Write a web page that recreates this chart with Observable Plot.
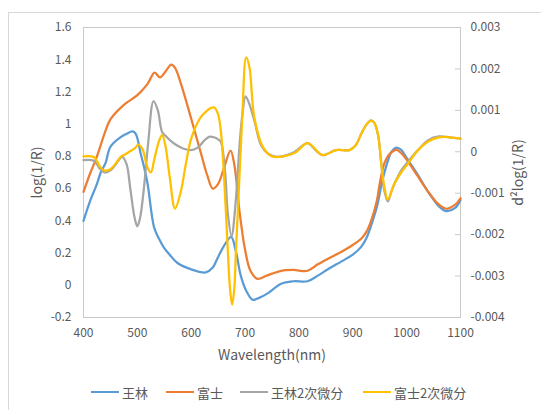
<!DOCTYPE html>
<html><head><meta charset="utf-8">
<script src="https://cdn.jsdelivr.net/npm/d3@7"></script>
<script src="https://cdn.jsdelivr.net/npm/@observablehq/plot@0.6"></script>
<style>
body{margin:0;background:#fff;}
#wrap{position:relative;width:541px;height:410px;overflow:hidden;font-family:"Noto Sans CJK SC","Noto Sans",sans-serif;background:#fff;}
#border{position:absolute;left:8px;top:12px;width:700px;height:600px;border:1px solid #d9d9d9;}
#chart{position:absolute;left:0;top:0;}
.leg{position:absolute;top:383px;height:18px;display:flex;align-items:center;font-size:13px;color:#595959;white-space:nowrap;}
.leg .sw{display:inline-block;width:28px;height:2.5px;margin-right:3px;}
</style></head>
<body><div id="wrap"><div id="border"></div><div id="chart"></div><div id="legend"></div></div>
<script>
// ---- data ----
const seriesNames = ["王林", "富士", "王林2次微分", "富士2次微分"];
const seriesColors = ["#5b9bd5", "#ed7d31", "#a5a5a5", "#ffc000"];

const wangWl = [400,413,425,432,441,450,469,480,491,497,506,512,519,531,540,550,560,574,599,627,640,649,660,674,683,692,703,714,725,742,767,790,816,835,854,880,900,916,925,934,945,955,965,972,981,990,1000,1020,1040,1060,1074,1090,1100];
const wangLin = [0.40,0.53,0.63,0.70,0.76,0.86,0.92,0.94,0.955,0.94,0.82,0.74,0.63,0.36,0.29,0.23,0.19,0.14,0.10,0.08,0.11,0.17,0.24,0.30,0.21,0.06,-0.04,-0.09,-0.08,-0.05,0.01,0.025,0.025,0.06,0.10,0.15,0.19,0.24,0.29,0.37,0.49,0.65,0.77,0.83,0.855,0.84,0.79,0.69,0.58,0.49,0.46,0.48,0.53];

const fujiWl = [400,413,425,440,450,475,500,519,532,542,553,563,570,581,599,618,630,640,650,660,673,680,690,700,710,723,740,767,790,816,835,854,880,900,916,925,934,945,950,959,970,981,990,1000,1020,1040,1060,1074,1090,1100];
const fuji = [0.58,0.70,0.80,0.95,1.03,1.12,1.18,1.25,1.32,1.29,1.33,1.37,1.35,1.25,1.045,0.82,0.68,0.60,0.63,0.72,0.836,0.75,0.45,0.22,0.09,0.04,0.06,0.09,0.095,0.09,0.13,0.165,0.21,0.25,0.29,0.33,0.40,0.53,0.63,0.76,0.82,0.84,0.82,0.78,0.68,0.58,0.50,0.475,0.50,0.54];

const wangD2Wl = [400,420,430,440,450,460,472,480,487,495,500,505,512,520,530,538,546,555,568,585,599,612,625,633,642,650,655,663,668,675,682,690,695,701,708,717,730,742,760,790,816,830,844,869,894,905,916,925,934,940,947,953,958,965,972,980,990,1000,1010,1021,1040,1060,1080,1100];
const wangLinD2 = [-0.00020,-0.00022,-0.00040,-0.00050,-0.00045,-0.00030,-0.00012,-0.00030,-0.00090,-0.00160,-0.00180,-0.00160,-0.00090,0.00020,0.00122,0.00100,0.00048,0.00035,0.00020,0.00008,0.00004,0.00010,0.00028,0.00036,0.00035,0.00030,0.00024,-0.00050,-0.00150,-0.00203,-0.00130,0.00020,0.00090,0.00134,0.00115,0.00076,0.00015,-0.00004,-0.00012,-0.00002,0.00021,0.00005,-0.00008,0.00004,0.00004,0.00015,0.00044,0.00065,0.00076,0.00070,0.00040,-0.00030,-0.00090,-0.00120,-0.00095,-0.00070,-0.00045,-0.00028,-0.00012,0.00004,0.00028,0.00037,0.00035,0.00032];

const fujiD2Wl = [400,420,430,438,450,460,469,475,485,495,502,510,518,525,532,540,546,552,560,570,580,590,600,618,630,637,643,650,655,661,668,672,676,680,683,689,695,702,708,717,733,750,792,816,844,869,894,905,916,925,934,940,947,953,958,965,977,990,1003,1021,1040,1060,1080,1100];
const fujiD2 = [-0.00011,-0.00013,-0.00035,-0.00045,-0.00042,-0.00028,-0.00012,-0.00008,0.00000,0.00008,0.00017,0.00005,-0.00035,-0.00050,-0.00015,0.00025,0.00040,0.00015,-0.00060,-0.00137,-0.00100,-0.00030,0.00032,0.00084,0.00100,0.00106,0.00107,0.00090,0.00050,-0.00060,-0.00240,-0.00330,-0.00369,-0.00330,-0.00240,-0.00077,0.00090,0.00228,0.00205,0.00084,0.00012,-0.00011,-0.00003,0.00021,-0.00008,0.00004,0.00004,0.00015,0.00044,0.00065,0.00075,0.00070,0.00040,-0.00030,-0.00080,-0.00115,-0.00077,-0.00050,-0.00028,0.00004,0.00025,0.00035,0.00035,0.00032];

const xTicks = [400,500,600,700,800,900,1000,1100];
const leftTicks = [-0.2,0,0.2,0.4,0.6,0.8,1.0,1.2,1.4,1.6];
const rightTicks = [-0.004,-0.003,-0.002,-0.001,0,0.001,0.002,0.003];

// ---- secondary axis mapping (right domain -> left domain) ----
const L0 = -0.2, L1 = 1.6, R0 = -0.004, R1 = 0.003;
const toLeft = d => L0 + (d - R0) / (R1 - R0) * (L1 - L0);
const fromLeft = v => R0 + (v - L0) / (L1 - L0) * (R1 - R0);

const mk = (wl, vals, mapFn) => wl.map((w, i) => ({x: w, y: mapFn ? mapFn(vals[i]) : vals[i]}));
const lineData = [
  mk(wangWl, wangLin),
  mk(fujiWl, fuji),
  mk(wangD2Wl, wangLinD2, toLeft),
  mk(fujiD2Wl, fujiD2, toLeft)
];

const textColor = "#595959";
const axisColor = "#c9c9c9";

const plot = Plot.plot({
  width: 541,
  height: 370,
  marginTop: 27,
  marginLeft: 83,
  marginRight: 81,
  marginBottom: 53,
  x: {domain: [400, 1100]},
  y: {domain: [L0, L1]},
  style: {fontSize: "12px", fontFamily: '"Noto Sans CJK SC","Noto Sans",sans-serif', color: textColor, background: "transparent"},
  marks: [
    Plot.frame({stroke: axisColor}),
    Plot.axisX({ticks: xTicks, tickSize: 0, tickPadding: 11, label: null, tickFormat: d => String(d)}),
    Plot.axisY({ticks: leftTicks, tickSize: 0, tickPadding: 12, label: null, tickFormat: d => String(Math.round(d * 10) / 10)}),
    Plot.axisY({anchor: "right", ticks: rightTicks.map(toLeft), tickSize: 0, tickPadding: 10, label: null,
      tickFormat: v => String(Math.round(fromLeft(v) * 1000) / 1000 || 0)}),
    Plot.ruleY(rightTicks.map(toLeft), {x1: 1100 - 9.3, x2: 1100, stroke: axisColor}),
    ...lineData.map((data, i) => Plot.line(data, {x: "x", y: "y", stroke: seriesColors[i], strokeWidth: 2.25, curve: "catmull-rom", strokeLinejoin: "round", strokeLinecap: "round"})),
    Plot.text(["Wavelength(nm)"], {text: d => d, frameAnchor: "bottom", dy: 38, textAnchor: "middle", lineAnchor: "middle", fontSize: 14, fill: textColor}),
    Plot.text(["log(1/R)"], {text: d => d, frameAnchor: "left", dx: -46, rotate: -90, textAnchor: "middle", lineAnchor: "middle", fontSize: 14, fill: textColor}),
    Plot.text(["d²log(1/R)"], {text: d => d, frameAnchor: "right", dx: 58, rotate: -90, textAnchor: "middle", lineAnchor: "middle", fontSize: 14, fill: textColor})
  ]
});
document.getElementById("chart").appendChild(plot);

// ---- legend ----
const legendX = [91, 166, 240, 363];
const legend = document.getElementById("legend");
seriesNames.forEach((name, i) => {
  const item = document.createElement("div");
  item.className = "leg";
  item.style.left = legendX[i] + "px";
  const sw = document.createElement("span");
  sw.className = "sw";
  sw.style.background = seriesColors[i];
  const t = document.createElement("span");
  t.textContent = name;
  item.appendChild(sw);
  item.appendChild(t);
  legend.appendChild(item);
});
</script>
</body></html>
